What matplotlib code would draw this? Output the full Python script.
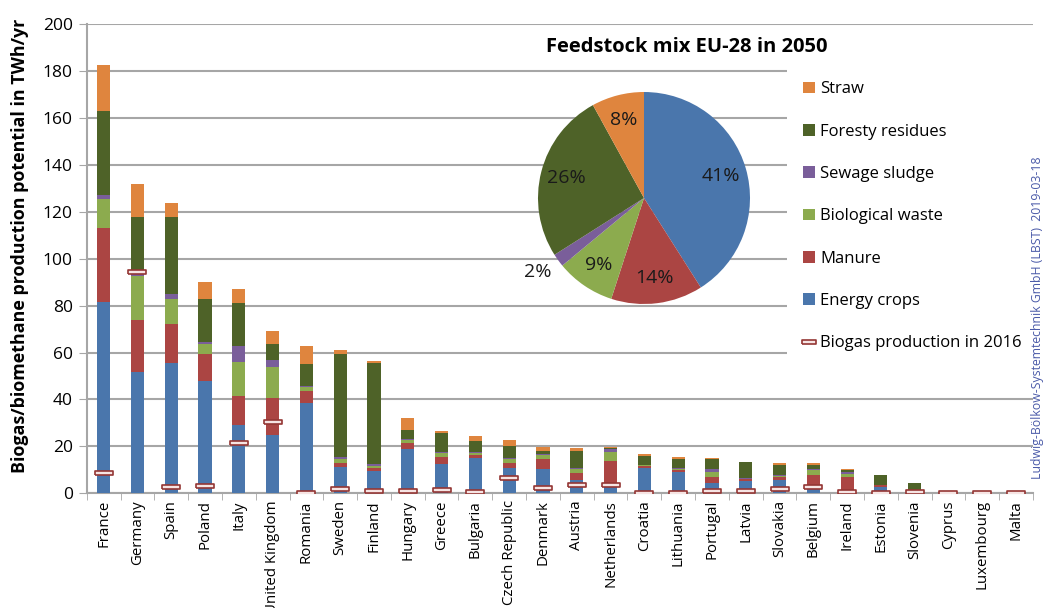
import numpy as np
import matplotlib
matplotlib.use('Agg')
import matplotlib.pyplot as plt
from matplotlib.patches import Rectangle
from matplotlib.lines import Line2D
from matplotlib.patches import Patch

plt.rcParams['font.family'] = ['Open Sans', 'DejaVu Sans']

countries = ['France', 'Germany', 'Spain', 'Poland', 'Italy', 'United Kingdom', 'Romania',
             'Sweden', 'Finland', 'Hungary', 'Greece', 'Bulgaria', 'Czech Republic', 'Denmark',
             'Austria', 'Netherlands', 'Croatia', 'Lithuania', 'Portugal', 'Latvia', 'Slovakia',
             'Belgium', 'Ireland', 'Estonia', 'Slovenia', 'Cyprus', 'Luxembourg', 'Malta']

energy_crops = [81.7, 51.9, 55.4, 47.9, 28.9, 24.9, 38.4, 11.1, 9.5, 18.8, 12.5, 15.2, 10.7, 10.2,
                5.7, 3.6, 10.7, 9.0, 4.3, 5.3, 5.7, 2.8, 1.1, 2.8, 0.5, 0.1, 0.1, 0.05]
manure = [31.3, 22.0, 16.8, 11.4, 12.6, 15.9, 5.0, 1.7, 1.2, 2.5, 2.9, 1.0, 2.4, 4.3,
          2.8, 10.3, 1.0, 0.9, 2.8, 0.7, 1.1, 5.0, 5.7, 0.7, 0.8, 0.1, 0.1, 0.05]
bio_waste = [12.4, 18.8, 10.5, 4.4, 14.4, 12.9, 1.9, 1.8, 1.0, 1.4, 1.7, 0.9, 1.5, 1.7,
             1.7, 3.9, 0.4, 0.5, 2.1, 0.2, 0.7, 2.1, 1.4, 0.1, 0.2, 0.1, 0.1, 0.05]
sewage = [1.8, 1.5, 2.2, 0.7, 7.1, 3.0, 0.4, 0.8, 0.7, 0.3, 0.4, 0.4, 0.6, 0.4,
          0.5, 1.0, 0.1, 0.3, 1.0, 0.1, 0.2, 0.3, 1.0, 0.1, 0.1, 0.0, 0.0, 0.0]
forest = [35.6, 23.7, 32.7, 18.3, 18.3, 7.1, 9.6, 43.9, 43.0, 4.0, 8.1, 4.8, 5.0, 1.3,
          7.5, 0.3, 3.8, 3.9, 4.6, 6.9, 4.2, 1.7, 0.7, 4.1, 2.7, 0.0, 0.2, 0.0]
straw = [19.9, 13.8, 6.1, 7.6, 5.8, 5.6, 7.6, 1.8, 1.0, 5.0, 1.1, 2.3, 2.5, 1.7,
         1.3, 0.5, 0.9, 1.0, 0.4, 0.1, 1.2, 0.9, 0.4, 0.2, 0.1, 0.0, 0.0, 0.0]
biogas_2016 = [8.5, 94.2, 2.8, 3.1, 21.6, 30.3, 0.3, 1.7, 1.1, 1.0, 1.3, 0.6, 6.7, 2.4,
               3.6, 3.6, 0.3, 0.3, 1.0, 1.0, 1.8, 2.6, 0.7, 0.2, 0.4, 0.3, 0.3, 0.2]

series_names = ['Energy crops', 'Manure', 'Biological waste', 'Sewage sludge', 'Foresty residues', 'Straw']
series_colors = ['#4a76ac', '#ab4543', '#8cab4e', '#7a5e9a', '#4e6228', '#df853e']

pie_shares = [41, 14, 9, 2, 26, 8]

fig = plt.figure(figsize=(10.45, 6.08), dpi=100)
ax = fig.add_axes([0.083, 0.1887, 0.9055, 0.7714])

x = np.arange(len(countries))
bottom = np.zeros(len(countries))
for vals, col in zip([energy_crops, manure, bio_waste, sewage, forest, straw], series_colors):
    ax.bar(x, vals, 0.39, bottom=bottom, color=col, zorder=3)
    bottom += np.array(vals)

# biogas production 2016 markers (small hollow rectangles)
rect_marker = [(-1, -0.25), (1, -0.25), (1, 0.25), (-1, 0.25), (-1, -0.25)]
ax.plot(x, biogas_2016, linestyle='none', marker=rect_marker, markersize=13,
        markerfacecolor='#f6e4e3', markeredgecolor='#943634', markeredgewidth=1.2, zorder=4)

ax.set_xlim(-0.5, len(countries) - 0.5)
ax.set_ylim(0, 200)
ax.set_yticks(range(0, 201, 20))
ax.yaxis.grid(True, color='#a6a6a6', linewidth=1.5)
ax.set_axisbelow(True)
ax.set_xticks(x)
ax.set_xticklabels(countries, rotation=90, fontsize=10.8)
ax.set_xticks(np.arange(-0.5, len(countries)), minor=True)
ax.tick_params(axis='x', which='major', length=0, pad=5)
ax.tick_params(axis='x', which='minor', length=5, color='#a6a6a6')
ax.tick_params(axis='y', length=6, color='#a6a6a6', labelsize=12.5, pad=4)
for s in ['top', 'right']:
    ax.spines[s].set_visible(False)
for s in ['left', 'bottom']:
    ax.spines[s].set_color('#a6a6a6')
    ax.spines[s].set_linewidth(1.5)
ax.set_ylabel('Biogas/biomethane production potential in TWh/yr', fontsize=12.9,
              fontweight='bold')
ax.yaxis.set_label_coords(-0.061, 0.527)

# white box behind legend
ax.add_patch(Rectangle((0.740, 0.26), 0.26, 0.73, transform=ax.transAxes,
                       facecolor='white', edgecolor='none', zorder=1))

# legend
handles = [Patch(facecolor=c, label=n) for n, c in zip(series_names, series_colors)][::-1]
handles.append(Line2D([], [], linestyle='none', marker=rect_marker, markersize=10,
                      markerfacecolor='#f6e4e3', markeredgecolor='#943634',
                      markeredgewidth=1.2, label='Biogas production in 2016'))
fig.legend(handles=handles, loc='upper left', bbox_to_anchor=(0.762, 0.877),
           frameon=False, fontsize=12, handlelength=0.7, handleheight=0.7,
           handletextpad=0.35, labelspacing=1.58, borderaxespad=0)

# pie
pax = fig.add_axes([538 / 1045, 1 - 304 / 608, 212 / 1045, 212 / 608])
wedges, texts, autotexts = pax.pie(pie_shares, colors=series_colors, startangle=90,
                                   counterclock=False, autopct='%d%%', pctdistance=0.76,
                                   textprops={'fontsize': 14, 'color': '#1a1a1a'})
autotexts[3].set_position((-1.0, -0.70))
pax.set_xlim(-1.0, 1.0)
pax.set_ylim(-1.0, 1.0)
pax.set_aspect('equal')
pax.set_facecolor('none')
fig.text(0.657, 0.922, 'Feedstock mix EU-28 in 2050', ha='center', va='center',
         fontsize=14.5, fontweight='bold')

fig.text(0.993, 0.477, 'Ludwig-Bölkow-Systemtechnik GmbH (LBST)  2019-03-18', rotation=90,
         ha='center', va='center', fontsize=8.8, color='#4a5aa8')

fig.savefig('out.png', dpi=100)
plt.close(fig)
